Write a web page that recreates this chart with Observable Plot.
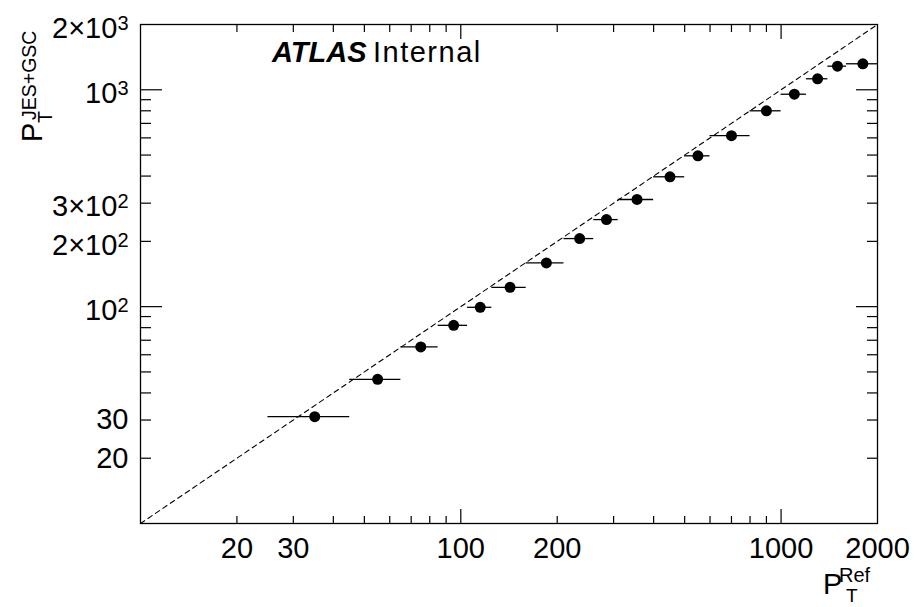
<!DOCTYPE html>
<html><head><meta charset="utf-8">
<script src="https://cdn.jsdelivr.net/npm/d3@7"></script>
<script src="https://cdn.jsdelivr.net/npm/@observablehq/plot@0.6"></script>
<style>body{margin:0;background:#fff} svg{display:block}</style>
</head><body><div id="chart"></div>
<script>
// Bins in reference pT (GeV)
const binLow  = [25, 45, 65, 85, 105, 125, 160, 210, 260, 310, 400, 500, 600, 800, 1000, 1200, 1400, 1600];
const binHigh = [45, 65, 85, 105, 125, 160, 210, 260, 310, 400, 500, 600, 800, 1000, 1200, 1400, 1600, 2000];
const ptRef   = [35, 55, 75, 95, 115, 142.5, 185, 235, 285, 355, 450, 550, 700, 900, 1100, 1300, 1500, 1800];
const ptReco  = [31.1, 46.2, 65.2, 82, 99.3, 122.8, 159, 206, 252, 312, 397, 496, 614, 800, 954, 1124, 1285, 1318];
const diagonal = [10, 2000];

// Axis ticks
const xMajor = [100, 1000];
const xMinor = [20, 30, 40, 50, 60, 70, 80, 90, 200, 300, 400, 500, 600, 700, 800, 900];
const xTickValues = [20, 30, 100, 200, 1000, 2000];
const xTickLabels = ["20", "30", "100", "200", "1000", "2000"];
const yMajor = [100, 1000];
const yMinor = [20, 30, 40, 50, 60, 70, 80, 90, 200, 300, 400, 500, 600, 700, 800, 900];
const yTickValues = [20, 30, 100, 200, 300, 1000, 2000];
const yTickLabels = ["20", "30", "10^2", "2×10^2", "3×10^2", "10^3", "2×10^3"];

const points = ptRef.map((x, i) => ({ref: x, reco: ptReco[i], lo: binLow[i], hi: binHigh[i]}));
const font = "'Liberation Sans', Arial, Helvetica, sans-serif";

const plot = Plot.plot({
  width: 914, height: 607,
  marginLeft: 140, marginRight: 37, marginTop: 24, marginBottom: 84,
  style: {fontFamily: font, fontSize: "29px", background: "white", color: "black", overflow: "visible"},
  x: {type: "log", domain: [10, 2000], axis: null},
  y: {type: "log", domain: [10, 2000], axis: null},
  marks: [
    Plot.line(diagonal, {x: d => d, y: d => d, stroke: "black", strokeWidth: 1.1, strokeDasharray: "5,4"}),
    Plot.ruleY(points, {y: "reco", x1: "lo", x2: "hi", stroke: "black", strokeWidth: 1.3}),
    Plot.dot(points, {x: "ref", y: "reco", r: 5.5, fill: "black", stroke: "none"}),
    Plot.axisX(xMajor, {anchor: "bottom", tickSize: -14, text: null, label: null, strokeWidth: 1.2}),
    Plot.axisX(xMinor, {anchor: "bottom", tickSize: -7, text: null, label: null, strokeWidth: 1.2}),
    Plot.axisX(xMajor, {anchor: "top", tickSize: -14, text: null, label: null, strokeWidth: 1.2}),
    Plot.axisX(xMinor, {anchor: "top", tickSize: -7, text: null, label: null, strokeWidth: 1.2}),
    Plot.axisY(yMajor, {anchor: "left", tickSize: -22, text: null, label: null, strokeWidth: 1.2}),
    Plot.axisY(yMinor, {anchor: "left", tickSize: -11, text: null, label: null, strokeWidth: 1.2}),
    Plot.axisY(yMajor, {anchor: "right", tickSize: -22, text: null, label: null, strokeWidth: 1.2}),
    Plot.axisY(yMinor, {anchor: "right", tickSize: -11, text: null, label: null, strokeWidth: 1.2}),
    Plot.axisX(xTickValues, {anchor: "bottom", tickSize: 0, tickPadding: 14, fontSize: 29, label: null,
      tickFormat: d => xTickLabels[xTickValues.indexOf(d)]}),
    Plot.axisY(yTickValues, {anchor: "left", tickSize: 0, tickPadding: 12, fontSize: 29, label: null,
      tickFormat: d => yTickLabels[yTickValues.indexOf(d)]}),
    Plot.frame({stroke: "black", strokeWidth: 1.3})
  ]
});
document.getElementById("chart").appendChild(plot);

const svg = d3.select(plot);
// superscripts in tick labels
svg.selectAll("text").each(function () {
  const t = this.textContent;
  if (t.includes("^")) {
    const [base, sup] = t.split("^");
    const sel = d3.select(this);
    sel.text(null);
    sel.append("tspan").attr("dy", 4).text(base);
    sel.append("tspan").attr("dy", -8).attr("font-size", 20).text(sup);
  }
});

// ATLAS label
const atlas = svg.append("text").attr("x", 272).attr("y", 62).attr("text-anchor", "start")
  .attr("font-family", font).attr("font-size", 29).attr("fill", "black");
atlas.append("tspan").attr("font-weight", "bold").attr("font-style", "italic").text("ATLAS");
atlas.append("tspan").attr("x", 373).attr("letter-spacing", 1.5).text("Internal");

// x-axis title
const xt = svg.append("text").attr("x", 823).attr("y", 594).attr("text-anchor", "start")
  .attr("font-family", font).attr("font-size", 29).attr("fill", "black");
xt.append("tspan").text("P");
xt.append("tspan").attr("x", 839).attr("dy", -12).attr("font-size", 20).text("Ref");
xt.append("tspan").attr("x", 846).attr("dy", 20).attr("font-size", 19).text("T");

// y-axis title
const yt = svg.append("text").attr("transform", "translate(41.7,142) rotate(-90)").attr("text-anchor", "start")
  .attr("font-family", font).attr("font-size", 29).attr("fill", "black");
yt.append("tspan").attr("x", 0).attr("y", 0).text("P");
yt.append("tspan").attr("x", 22).attr("y", -5.7).attr("font-size", 19.5).text("JES+GSC");
yt.append("tspan").attr("x", 19).attr("y", 10.3).attr("font-size", 19.5).text("T");
</script>
</body></html>
